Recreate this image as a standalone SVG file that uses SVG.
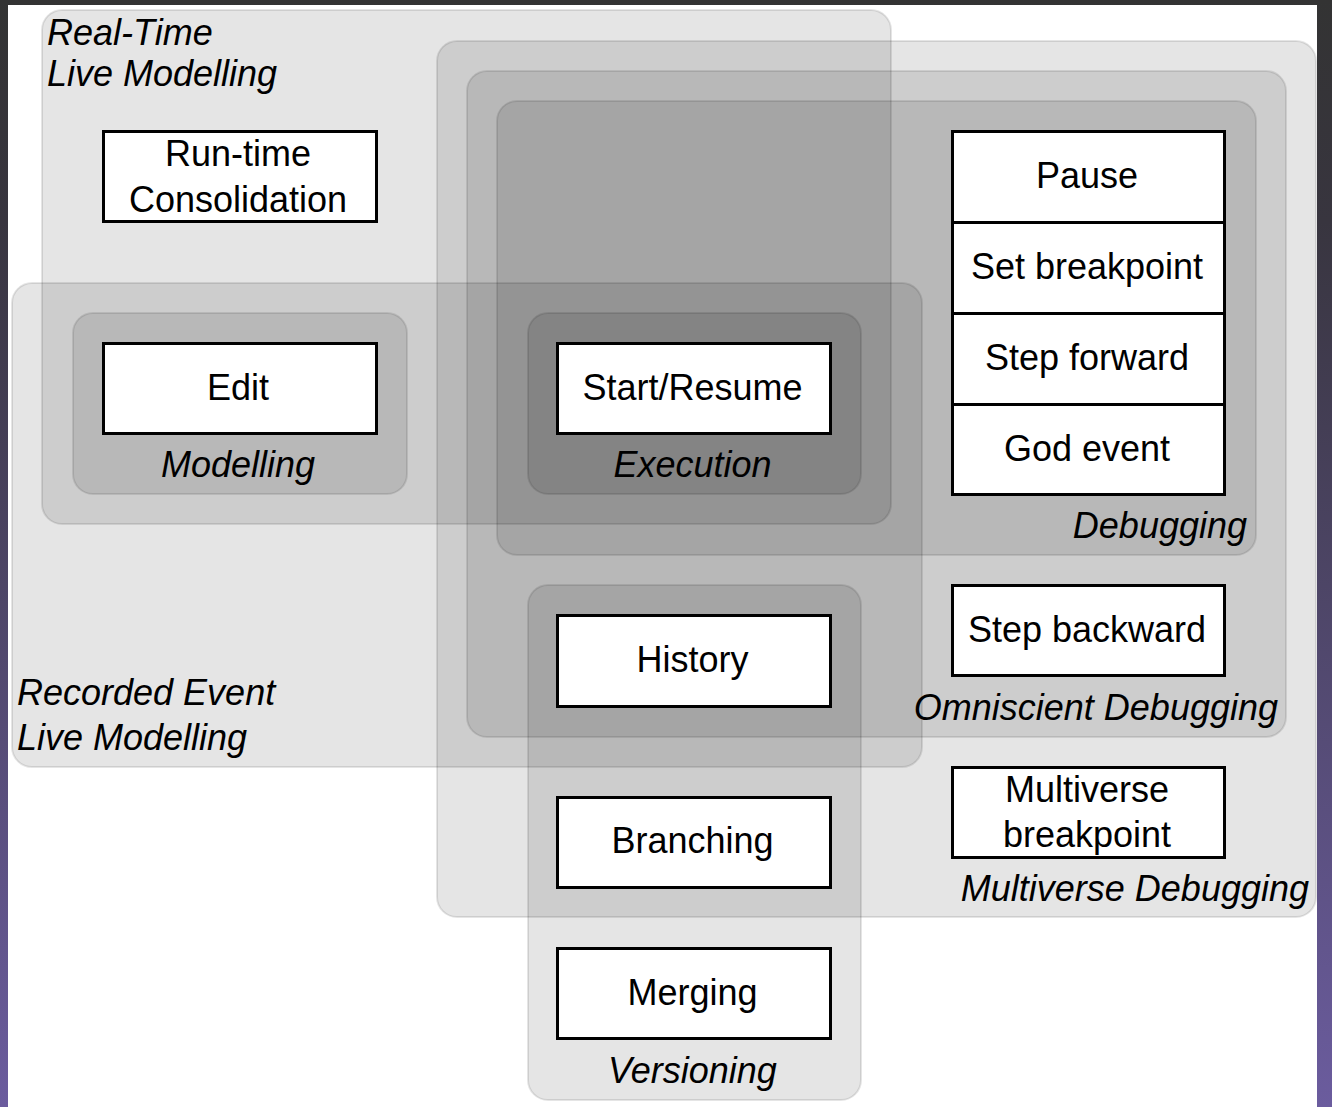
<svg xmlns="http://www.w3.org/2000/svg" width="1332" height="1107" viewBox="0 0 1332 1107">
  <defs>
    <linearGradient id="bg" x1="0" y1="0" x2="0" y2="1">
      <stop offset="0" stop-color="#333333"/>
      <stop offset="0.2" stop-color="#38353f"/>
      <stop offset="1" stop-color="#6b5c9e"/>
    </linearGradient>
  </defs>
  <style>
    .area { fill: #000; fill-opacity: 0.1; stroke: #000; stroke-opacity: 0.1; stroke-width: 2; }
    .box { fill: #fff; stroke: #000; stroke-width: 3; }
    .t { font-family: "Liberation Sans", Arial, sans-serif; font-size: 36px; fill: #000; }
    .c { text-anchor: middle; }
    .l { font-family: "Liberation Sans", Arial, sans-serif; font-size: 36px; font-style: italic; fill: #000; }
  </style>
  <rect x="0" y="0" width="1332" height="1107" fill="url(#bg)"/>
  <rect x="8" y="5" width="1309" height="1102" fill="#fff"/>

  <g id="real-time-live-modelling">
    <rect class="area" x="42" y="10" width="849" height="514" rx="20"/>
    <text class="l" x="47" y="45">Real-Time</text>
    <text class="l" x="47" y="86">Live Modelling</text>
  </g>
  <g id="recorded-event-live-modelling">
    <rect class="area" x="12" y="283" width="910" height="484" rx="20"/>
    <text class="l" x="17" y="705">Recorded Event</text>
    <text class="l" x="17" y="750">Live Modelling</text>
  </g>
  <g id="multiverse-debugging">
    <rect class="area" x="437" y="41" width="879" height="876" rx="20"/>
    <text class="l" x="1309" y="901" text-anchor="end">Multiverse Debugging</text>
  </g>
  <g id="omniscient-debugging">
    <rect class="area" x="467" y="71" width="819" height="666" rx="20"/>
    <text class="l" x="1278" y="720" text-anchor="end">Omniscient Debugging</text>
  </g>
  <g id="debugging">
    <rect class="area" x="497" y="101" width="759" height="454" rx="20"/>
    <text class="l" x="1247" y="538" text-anchor="end">Debugging</text>
  </g>
  <g id="modelling">
    <rect class="area" x="73" y="313" width="334" height="181" rx="20"/>
    <text class="l c" x="238" y="477">Modelling</text>
  </g>
  <g id="execution">
    <rect class="area" x="528" y="313" width="333" height="181" rx="20"/>
    <text class="l c" x="692.5" y="477">Execution</text>
  </g>
  <g id="versioning">
    <rect class="area" x="528" y="585" width="333" height="515" rx="20"/>
    <text class="l c" x="692.5" y="1083">Versioning</text>
  </g>

  <g id="run-time-consolidation">
    <rect class="box" x="103.5" y="131.5" width="273" height="90"/>
    <text class="t c" x="238" y="166">Run-time</text>
    <text class="t c" x="238" y="212">Consolidation</text>
  </g>
  <g id="edit">
    <rect class="box" x="103.5" y="343.5" width="273" height="90"/>
    <text class="t c" x="238" y="400">Edit</text>
  </g>
  <g id="start-resume">
    <rect class="box" x="557.5" y="343.5" width="273" height="90"/>
    <text class="t c" x="692.5" y="400">Start/Resume</text>
  </g>
  <g id="pause">
    <rect class="box" x="952.5" y="131.5" width="272" height="91"/>
    <text class="t c" x="1087" y="188">Pause</text>
  </g>
  <g id="set-breakpoint">
    <rect class="box" x="952.5" y="222.5" width="272" height="91"/>
    <text class="t c" x="1087" y="279">Set breakpoint</text>
  </g>
  <g id="step-forward">
    <rect class="box" x="952.5" y="313.5" width="272" height="91"/>
    <text class="t c" x="1087" y="370">Step forward</text>
  </g>
  <g id="god-event">
    <rect class="box" x="952.5" y="404.5" width="272" height="90"/>
    <text class="t c" x="1087" y="461">God event</text>
  </g>
  <g id="step-backward">
    <rect class="box" x="952.5" y="585.5" width="272" height="90"/>
    <text class="t c" x="1087" y="642">Step backward</text>
  </g>
  <g id="multiverse-breakpoint">
    <rect class="box" x="952.5" y="767.5" width="272" height="90"/>
    <text class="t c" x="1087" y="802">Multiverse</text>
    <text class="t c" x="1087" y="847">breakpoint</text>
  </g>
  <g id="history">
    <rect class="box" x="557.5" y="615.5" width="273" height="91"/>
    <text class="t c" x="692.5" y="672">History</text>
  </g>
  <g id="branching">
    <rect class="box" x="557.5" y="797.5" width="273" height="90"/>
    <text class="t c" x="692.5" y="853">Branching</text>
  </g>
  <g id="merging">
    <rect class="box" x="557.5" y="948.5" width="273" height="90"/>
    <text class="t c" x="692.5" y="1005">Merging</text>
  </g>

  <g id="connectors"></g>
</svg>
